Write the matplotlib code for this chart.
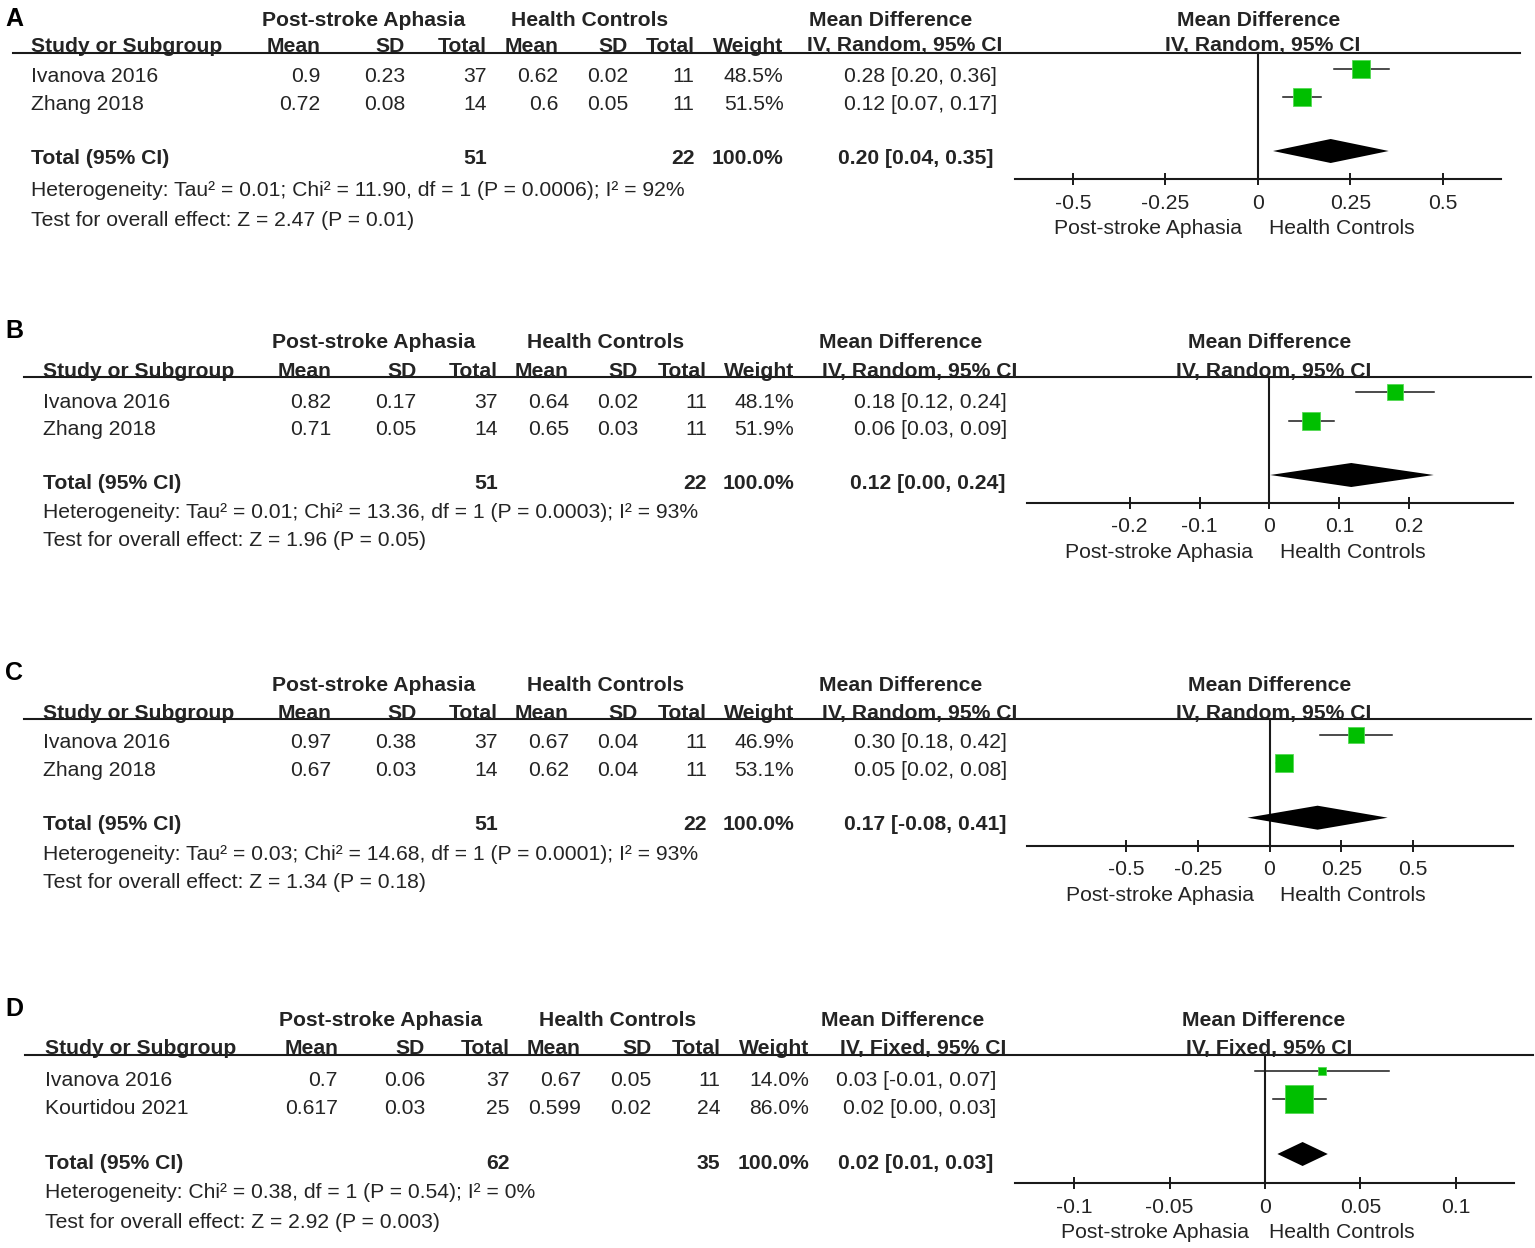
import matplotlib
matplotlib.use('Agg')
import matplotlib.pyplot as plt
from matplotlib.lines import Line2D
from matplotlib.patches import Polygon

plt.rcParams['font.family'] = ['Liberation Sans', 'DejaVu Sans']
plt.rcParams['axes.unicode_minus'] = False

# ------------------------------------------------------------------ data
group_left = 'Post-stroke Aphasia'
group_right = 'Health Controls'

# Panel A
A_studies = ['Ivanova 2016', 'Zhang 2018']
A_psa_mean = [0.9, 0.72]
A_psa_sd = [0.23, 0.08]
A_psa_n = [37, 14]
A_hc_mean = [0.62, 0.6]
A_hc_sd = [0.02, 0.05]
A_hc_n = [11, 11]
A_weight = [48.5, 51.5]
A_md = [0.28, 0.12]
A_ci_low = [0.205, 0.069]
A_ci_high = [0.355, 0.172]
A_ci_text = ['0.28 [0.20, 0.36]', '0.12 [0.07, 0.17]']
A_total_n = [51, 22]
A_pooled = [0.197, 0.041, 0.354]
A_pooled_text = '0.20 [0.04, 0.35]'
A_method = 'IV, Random, 95% CI'
A_het = 'Heterogeneity: Tau² = 0.01; Chi² = 11.90, df = 1 (P = 0.0006); I² = 92%'
A_test = 'Test for overall effect: Z = 2.47 (P = 0.01)'
A_ticks = [-0.5, -0.25, 0, 0.25, 0.5]
A_tick_labels = ['-0.5', '-0.25', '0', '0.25', '0.5']

# Panel B
B_studies = ['Ivanova 2016', 'Zhang 2018']
B_psa_mean = [0.82, 0.71]
B_psa_sd = [0.17, 0.05]
B_psa_n = [37, 14]
B_hc_mean = [0.64, 0.65]
B_hc_sd = [0.02, 0.03]
B_hc_n = [11, 11]
B_weight = [48.1, 51.9]
B_md = [0.18, 0.06]
B_ci_low = [0.124, 0.028]
B_ci_high = [0.236, 0.092]
B_ci_text = ['0.18 [0.12, 0.24]', '0.06 [0.03, 0.09]']
B_total_n = [51, 22]
B_pooled = [0.117, 0.001, 0.235]
B_pooled_text = '0.12 [0.00, 0.24]'
B_method = 'IV, Random, 95% CI'
B_het = 'Heterogeneity: Tau² = 0.01; Chi² = 13.36, df = 1 (P = 0.0003); I² = 93%'
B_test = 'Test for overall effect: Z = 1.96 (P = 0.05)'
B_ticks = [-0.2, -0.1, 0, 0.1, 0.2]
B_tick_labels = ['-0.2', '-0.1', '0', '0.1', '0.2']

# Panel C
C_studies = ['Ivanova 2016', 'Zhang 2018']
C_psa_mean = [0.97, 0.67]
C_psa_sd = [0.38, 0.03]
C_psa_n = [37, 14]
C_hc_mean = [0.67, 0.62]
C_hc_sd = [0.04, 0.04]
C_hc_n = [11, 11]
C_weight = [46.9, 53.1]
C_md = [0.30, 0.05]
C_ci_low = [0.175, 0.022]
C_ci_high = [0.425, 0.078]
C_ci_text = ['0.30 [0.18, 0.42]', '0.05 [0.02, 0.08]']
C_total_n = [51, 22]
C_pooled = [0.167, -0.077, 0.411]
C_pooled_text = '0.17 [-0.08, 0.41]'
C_method = 'IV, Random, 95% CI'
C_het = 'Heterogeneity: Tau² = 0.03; Chi² = 14.68, df = 1 (P = 0.0001); I² = 93%'
C_test = 'Test for overall effect: Z = 1.34 (P = 0.18)'
C_ticks = [-0.5, -0.25, 0, 0.25, 0.5]
C_tick_labels = ['-0.5', '-0.25', '0', '0.25', '0.5']

# Panel D
D_studies = ['Ivanova 2016', 'Kourtidou 2021']
D_psa_mean = [0.7, 0.617]
D_psa_sd = [0.06, 0.03]
D_psa_n = [37, 25]
D_hc_mean = [0.67, 0.599]
D_hc_sd = [0.05, 0.02]
D_hc_n = [11, 24]
D_weight = [14.0, 86.0]
D_md = [0.03, 0.018]
D_ci_low = [-0.005, 0.004]
D_ci_high = [0.065, 0.032]
D_ci_text = ['0.03 [-0.01, 0.07]', '0.02 [0.00, 0.03]']
D_total_n = [62, 35]
D_pooled = [0.0197, 0.0065, 0.0329]
D_pooled_text = '0.02 [0.01, 0.03]'
D_method = 'IV, Fixed, 95% CI'
D_het = 'Heterogeneity: Chi² = 0.38, df = 1 (P = 0.54); I² = 0%'
D_test = 'Test for overall effect: Z = 2.92 (P = 0.003)'
D_ticks = [-0.1, -0.05, 0, 0.05, 0.1]
D_tick_labels = ['-0.1', '-0.05', '0', '0.05', '0.1']

# ------------------------------------------------------------------ layout (pixels)
colB = dict(study=42.7, pm=331.7, psd=416.5, pn=498, hm=569, hsd=638, hn=707,
            w=794, ci=1007, ci_hdr=1017, ci_tot=1006)
layouts = {
    'A': dict(letter_y=18, grp_y=18, hdr_y=44, line_y=53, line_x=(13, 1520),
              rows_y=[75, 103], total_y=157, het_y=189, test_y=218,
              col=dict(study=31, pm=320.5, psd=405, pn=487, hm=558.5, hsd=628, hn=694.5,
                       w=783.5, ci=997, ci_hdr=1002, ci_tot=993),
              grp_x=(364, 590, 891), ax_x=(1015.4, 1500.7), axis_y=179,
              sq_y=[68.7, 96.7], dia_y=151, xlim=(-0.656, 0.657),
              md_hdr_x=(1258.6, 1262.7), dir_x=(1241.8, 1269.2), pad=6.0),
    'B': dict(letter_y=330, grp_y=340.7, hdr_y=369.3, line_y=377.3, line_x=(24, 1531),
              rows_y=[400, 427.7], total_y=481.7, het_y=510.7, test_y=538.3,
              col=colB, grp_x=(374, 605.6, 901), ax_x=(1026.7, 1512.7), axis_y=502.7,
              sq_y=[392.3, 420.7], dia_y=475, xlim=(-0.3474, 0.3480),
              md_hdr_x=(1269.2, 1273.5), dir_x=(1253.1, 1279.5), pad=6.0),
    'C': dict(letter_y=673, grp_y=683.3, hdr_y=711.7, line_y=719.3, line_x=(24, 1531),
              rows_y=[740.7, 768.3], total_y=822.7, het_y=852.7, test_y=880.7,
              col=colB, grp_x=(374, 605.6, 901), ax_x=(1026.7, 1512.7), axis_y=845.7,
              sq_y=[735.3, 763.3], dia_y=817.7, xlim=(-0.845, 0.846),
              md_hdr_x=(1269.2, 1273.5), dir_x=(1253.8, 1279.5), pad=6.0),
    'D': dict(letter_y=1009, grp_y=1018.3, hdr_y=1046.7, line_y=1055, line_x=(25, 1533),
              rows_y=[1078.3, 1106], total_y=1161.7, het_y=1190.7, test_y=1220,
              col=dict(study=45, pm=338, psd=425, pn=510, hm=581, hsd=651.7, hn=720.5,
                       w=809.5, ci=996.7, ci_hdr=1006.7, ci_tot=993.3),
              grp_x=(380.5, 618, 903), ax_x=(1015.4, 1514.4), axis_y=1182.7,
              sq_y=[1070.7, 1099.3], dia_y=1154, xlim=(-0.1308, 0.1307),
              md_hdr_x=(1263.7, 1268.9), dir_x=(1248.6, 1269.2), pad=6.5),
}

W, H = 1535, 1248
TXT = '#242424'
LINE = '#1a1a1a'
FS = 15.2
SQ_FACE = '#00bf00'
SQ_EDGE = '#55d955'

fig = plt.figure(figsize=(W / 100, H / 100), dpi=100)


def fx(x):
    return x / W


def fy(y):
    return 1 - y / H


def text(x, y, s, ha='left', bold=False, size=FS, color=TXT):
    fig.text(fx(x), fy(y + 7.5 * size / FS), s, ha=ha, va='baseline', fontsize=size,
             fontweight='bold' if bold else 'normal', color=color)


panels = {
    'A': (A_studies, A_psa_mean, A_psa_sd, A_psa_n, A_hc_mean, A_hc_sd, A_hc_n, A_weight,
          A_md, A_ci_low, A_ci_high, A_ci_text, A_total_n, A_pooled, A_pooled_text,
          A_method, A_het, A_test, A_ticks, A_tick_labels),
    'B': (B_studies, B_psa_mean, B_psa_sd, B_psa_n, B_hc_mean, B_hc_sd, B_hc_n, B_weight,
          B_md, B_ci_low, B_ci_high, B_ci_text, B_total_n, B_pooled, B_pooled_text,
          B_method, B_het, B_test, B_ticks, B_tick_labels),
    'C': (C_studies, C_psa_mean, C_psa_sd, C_psa_n, C_hc_mean, C_hc_sd, C_hc_n, C_weight,
          C_md, C_ci_low, C_ci_high, C_ci_text, C_total_n, C_pooled, C_pooled_text,
          C_method, C_het, C_test, C_ticks, C_tick_labels),
    'D': (D_studies, D_psa_mean, D_psa_sd, D_psa_n, D_hc_mean, D_hc_sd, D_hc_n, D_weight,
          D_md, D_ci_low, D_ci_high, D_ci_text, D_total_n, D_pooled, D_pooled_text,
          D_method, D_het, D_test, D_ticks, D_tick_labels),
}

for key, data in panels.items():
    (studies, pm, psd, pn, hm, hsd, hn, wts, md, lo, hi, ci_txt, tot_n, pooled,
     pooled_txt, method, het, test, ticks, tick_labels) = data
    L = layouts[key]
    c = L['col']

    # panel letter
    fig.text(fx(5), fy(L['letter_y'] + 7.5), key, ha='left', va='baseline',
             fontsize=18, fontweight='bold', color='black',
             fontstretch='expanded')

    # group headers
    text(L['grp_x'][0], L['grp_y'], group_left, ha='center', bold=True)
    text(L['grp_x'][1], L['grp_y'], group_right, ha='center', bold=True)
    text(L['grp_x'][2], L['grp_y'], 'Mean Difference', ha='center', bold=True)
    text(L['md_hdr_x'][0], L['grp_y'], 'Mean Difference', ha='center', bold=True)

    # column headers
    y = L['hdr_y']
    text(c['study'], y, 'Study or Subgroup', bold=True)
    text(c['pm'], y, 'Mean', ha='right', bold=True)
    text(c['psd'], y, 'SD', ha='right', bold=True)
    text(c['pn'], y, 'Total', ha='right', bold=True)
    text(c['hm'], y, 'Mean', ha='right', bold=True)
    text(c['hsd'], y, 'SD', ha='right', bold=True)
    text(c['hn'], y, 'Total', ha='right', bold=True)
    text(c['w'], y, 'Weight', ha='right', bold=True)
    text(c['ci_hdr'], y, method, ha='right', bold=True)
    text(L['md_hdr_x'][1], y, method, ha='center', bold=True)

    # header rule
    fig.add_artist(Line2D([fx(L['line_x'][0]), fx(L['line_x'][1])],
                          [fy(L['line_y']), fy(L['line_y'])],
                          transform=fig.transFigure, color=LINE, lw=1.5))

    # study rows
    for i, s in enumerate(studies):
        y = L['rows_y'][i]
        text(c['study'], y, s)
        text(c['pm'], y, str(pm[i]), ha='right')
        text(c['psd'], y, str(psd[i]), ha='right')
        text(c['pn'], y, str(pn[i]), ha='right')
        text(c['hm'], y, str(hm[i]), ha='right')
        text(c['hsd'], y, str(hsd[i]), ha='right')
        text(c['hn'], y, str(hn[i]), ha='right')
        text(c['w'], y, f'{wts[i]:.1f}%', ha='right')
        text(c['ci'], y, ci_txt[i], ha='right')

    # total row
    y = L['total_y']
    text(c['study'], y, 'Total (95% CI)', bold=True)
    text(c['pn'], y, str(tot_n[0]), ha='right', bold=True)
    text(c['hn'], y, str(tot_n[1]), ha='right', bold=True)
    text(c['w'], y, f'{sum(wts):.1f}%', ha='right', bold=True)
    text(c['ci_tot'], y, pooled_txt, ha='right', bold=True)

    text(c['study'], L['het_y'], het)
    text(c['study'], L['test_y'], test)

    # forest axes
    x1, x2 = L['ax_x']
    ax = fig.add_axes([fx(x1), fy(L['axis_y']), fx(x2) - fx(x1),
                       (L['axis_y'] - L['line_y']) / H])
    ax.patch.set_visible(False)
    ax.set_xlim(*L['xlim'])
    ax.set_ylim(L['axis_y'], L['line_y'])
    for sp in ('top', 'left', 'right'):
        ax.spines[sp].set_visible(False)
    ax.spines['bottom'].set_color(LINE)
    ax.spines['bottom'].set_linewidth(1.5)
    ax.set_yticks([])
    ax.set_xticks(ticks)
    ax.set_xticklabels(tick_labels)
    ax.tick_params(axis='x', direction='inout', length=9, width=1.4, color=LINE,
                   pad=L['pad'], labelsize=FS, labelcolor=TXT)
    ax.axvline(0, color=LINE, lw=1.5, clip_on=False)

    for i in range(len(studies)):
        yy = L['sq_y'][i]
        ax.plot([lo[i], hi[i]], [yy, yy], color=LINE, lw=1.1, zorder=2, clip_on=False)
        side = (3 + 0.29 * wts[i]) * 0.72
        ax.plot([md[i]], [yy], marker='s', ms=side, mfc=SQ_FACE, mec=SQ_EDGE, mew=0.6,
                ls='none', zorder=3, clip_on=False)

    est, plo, phi = pooled
    dy = L['dia_y']
    ax.add_patch(Polygon([[plo, dy], [est, dy - 12], [phi, dy], [est, dy + 12]],
                         closed=True, fc='black', ec='none', zorder=3))

    # direction labels
    text(L['dir_x'][0], L['axis_y'] + 47.5, group_left, ha='right')
    text(L['dir_x'][1], L['axis_y'] + 47.5, group_right, ha='left')

fig.savefig('out.png', dpi=100, facecolor='white')
